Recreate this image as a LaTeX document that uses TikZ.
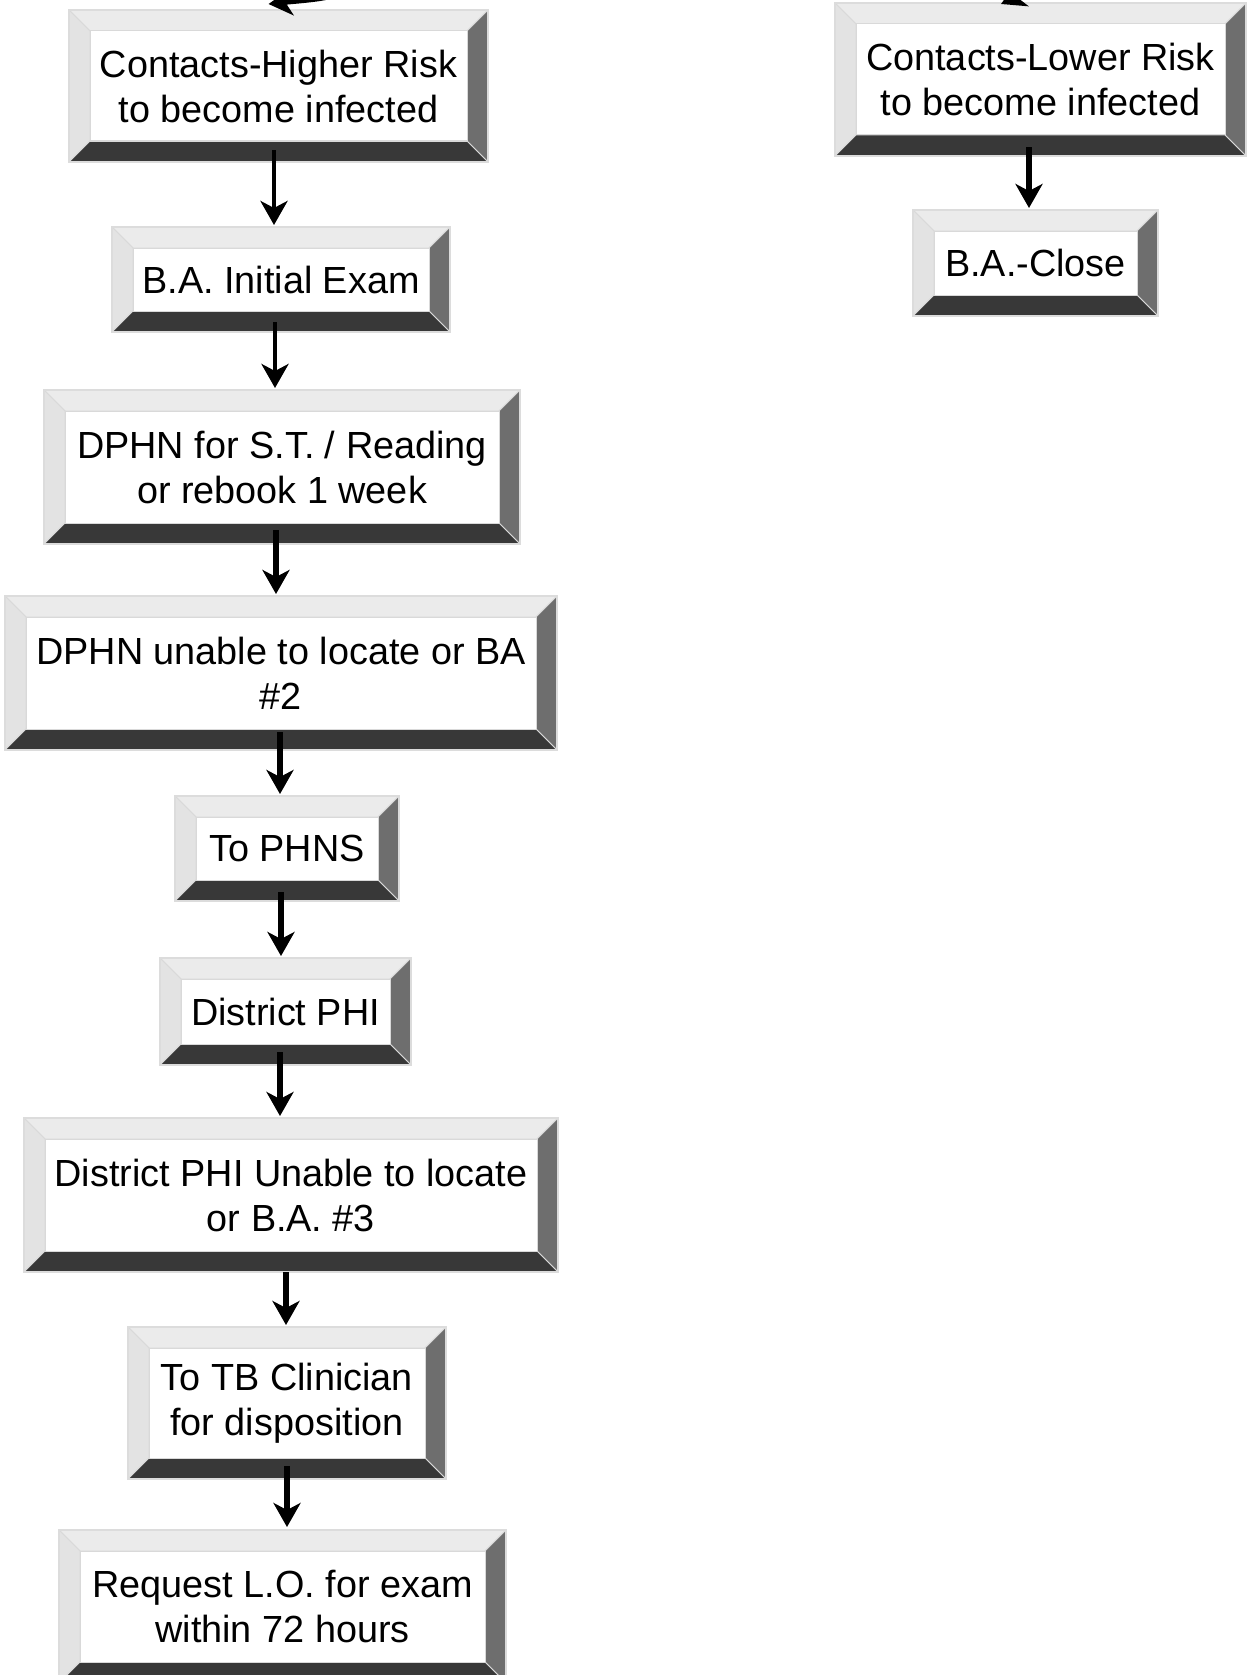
\documentclass[tikz,border=0pt]{standalone}
\usepackage{fontspec}
\setmainfont{Liberation Sans}
\usetikzlibrary{arrows.meta,calc}
\definecolor{bevtop}{HTML}{EBEBEB}
\definecolor{bevleft}{HTML}{E3E3E3}
\definecolor{bevright}{HTML}{6E6E6E}
\definecolor{bevbot}{HTML}{383838}
\definecolor{bevline}{HTML}{D9D9D9}
\definecolor{edgegray}{HTML}{DCDCDC}
\newcommand{\boxfont}{\fontsize{37.8pt}{45pt}\selectfont}
\newcommand{\bw}{21}
\tikzset{
  bevbox/.style={draw=edgegray, line width=1.5pt, fill=white, inner sep=0pt, outer sep=0pt,
    align=center, font=\boxfont, rectangle,
    path picture={
      \path (path picture bounding box.north west) coordinate (pA)
            (path picture bounding box.north east) coordinate (pB)
            (path picture bounding box.south east) coordinate (pC)
            (path picture bounding box.south west) coordinate (pD);
      \path ($(pA)+(\bw,\bw)$) coordinate (pa)
            ($(pB)+(-\bw,\bw)$) coordinate (pb)
            ($(pC)+(-\bw,-\bw)$) coordinate (pc)
            ($(pD)+(\bw,-\bw)$) coordinate (pd);
      \filldraw[draw=bevline, line width=1pt, fill=bevtop] (pA)--(pB)--(pb)--(pa)--cycle;
      \filldraw[draw=bevline, line width=1pt, fill=bevleft] (pA)--(pa)--(pd)--(pD)--cycle;
      \filldraw[draw=bevline, line width=1pt, fill=bevright] (pB)--(pC)--(pc)--(pb)--cycle;
      \filldraw[draw=bevline, line width=1pt, fill=bevbot] (pD)--(pd)--(pc)--(pC)--cycle;
      \filldraw[draw=bevline, line width=1pt, fill=white] (pa)--(pb)--(pc)--(pd)--cycle;
    }},
  arr/.style={line width=6.5pt, -{Stealth[length=24pt 0 1,width=27pt 0 1,inset=7pt 0 1]}},
  thinarr/.style={arr, line width=4.5pt}
}
\begin{document}
\begin{tikzpicture}[x=1pt,y=-1pt]
\useasboundingbox (0,0) rectangle (1247,1675);
\clip (0,0) rectangle (1247,1675);
\fill[white] (0,0) rectangle (1247,1675);

% left column
\node[bevbox, minimum width=419pt, minimum height=152pt] (b1) at (278.5,86) {Contacts-Higher Risk\\to become infected};
\node[bevbox, minimum width=338pt, minimum height=105pt] (b2) at (281,279.5) {B.A. Initial Exam};
\node[bevbox, minimum width=476pt, minimum height=154pt] (b3) at (282,467) {DPHN for S.T. / Reading\\or rebook 1 week};
\node[bevbox, minimum width=552pt, minimum height=154pt] (b4) at (281,673) {DPHN unable to locate or BA\\\#2};
\node[bevbox, minimum width=224pt, minimum height=105pt] (b5) at (287,848.5) {To PHNS};
\node[bevbox, minimum width=251pt, minimum height=107pt] (b6) at (285.5,1011.5) {District PHI};
\node[bevbox, minimum width=534pt, minimum height=154pt] (b7) at (291,1195) {District PHI Unable to locate\\or B.A. \#3};
\node[bevbox, minimum width=318pt, minimum height=152pt] (b8) at (287,1403) {To TB Clinician\\for disposition};
\node[bevbox, minimum width=447pt, minimum height=153pt] (b9) at (282.5,1606.5) {Request L.O. for exam\\within 72 hours};

% right column
\node[bevbox, minimum width=411pt, minimum height=153pt] (r1) at (1040.5,79.5) {Contacts-Lower Risk\\to become infected};
\node[bevbox, minimum width=245pt, minimum height=106pt] (r2) at (1035.5,263) {B.A.-Close};

% incoming arrows from above (cut off)
\coordinate (inL) at (380,-25);
\draw[thinarr] (inL) .. controls (335,-2) .. ([xshift=-10pt,yshift=6pt]b1.north);
\coordinate (inR) at (1090,-35);
\draw[thinarr] (inR) .. controls (1040,-14) .. ([xshift=-39.5pt,yshift=-1pt]r1.north);

% connectors
\draw[thinarr] ([xshift=-4.5pt,yshift=12pt]b1.south) coordinate (s1) -- ([yshift=2pt]s1 |- b2.north);
\draw[thinarr] ([xshift=-6pt,yshift=10pt]b2.south) coordinate (s2) -- ([yshift=2pt]s2 |- b3.north);
\draw[arr] ([xshift=-6pt,yshift=14pt]b3.south) coordinate (s3) -- ([yshift=2pt]s3 |- b4.north);
\draw[arr] ([xshift=-1pt,yshift=18pt]b4.south) coordinate (s4) -- ([yshift=2pt]s4 |- b5.north);
\draw[arr] ([xshift=-6pt,yshift=9pt]b5.south) coordinate (s5) -- ([yshift=2pt]s5 |- b6.north);
\draw[arr] ([xshift=-5.5pt,yshift=13pt]b6.south) coordinate (s6) -- ([yshift=2pt]s6 |- b7.north);
\draw[arr] ([xshift=-5pt,yshift=0pt]b7.south) coordinate (s7) -- ([yshift=2pt]s7 |- b8.north);
\draw[arr] ([xshift=0pt,yshift=13pt]b8.south) coordinate (s8) -- ([yshift=3pt]s8 |- b9.north);
\draw[arr] ([xshift=-11.5pt,yshift=9pt]r1.south) coordinate (sr) -- ([yshift=2pt]sr |- r2.north);
\end{tikzpicture}
\end{document}
